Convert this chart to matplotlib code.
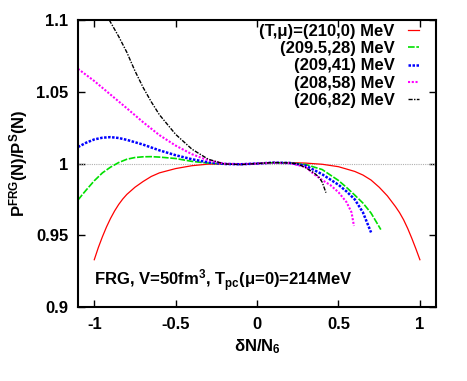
import matplotlib
matplotlib.use('Agg')
import matplotlib.pyplot as plt

plt.rcParams['font.family'] = ['Liberation Sans', 'DejaVu Sans']
plt.rcParams['font.weight'] = 'bold'
plt.rcParams['axes.labelweight'] = 'bold'
plt.rcParams['mathtext.fontset'] = 'custom'
plt.rcParams['mathtext.rm'] = 'Liberation Sans:bold'
plt.rcParams['mathtext.it'] = 'Liberation Sans:bold'
plt.rcParams['mathtext.bf'] = 'Liberation Sans:bold'
plt.rcParams['mathtext.sf'] = 'Liberation Sans:bold'

# (T,mu)=(210,0) MeV
x_red = [-1.0, -0.975, -0.95, -0.925, -0.9, -0.875, -0.85, -0.825, -0.8, -0.75, -0.7, -0.65, -0.6, -0.5, -0.4,
         -0.3, -0.2, -0.1, 0.0, 0.1, 0.2, 0.3, 0.4, 0.5, 0.6, 0.65, 0.7, 0.75, 0.8, 0.85, 0.875, 0.9,
         0.925, 0.95, 0.975, 1.0]
y_red = [0.933, 0.9415, 0.949, 0.9558, 0.9618, 0.967, 0.9715, 0.9753, 0.9785, 0.9835, 0.9875, 0.991, 0.9935, 0.9965, 0.9985,
         0.9996, 0.9997, 0.9995, 1.0, 1.0006, 1.0007, 1.0003, 0.9995, 0.9978, 0.9945, 0.992, 0.9885, 0.9835, 0.9775, 0.970, 0.9658, 0.9608,
         0.9548, 0.948, 0.9407, 0.933]

# (209.5,28) MeV
x_green = [-1.1, -1.075, -1.05, -1.0, -0.95, -0.9, -0.85, -0.8, -0.75, -0.7, -0.65, -0.6, -0.5, -0.4, -0.3, -0.2, -0.1,
           0.0, 0.1, 0.2, 0.3, 0.4, 0.5, 0.55, 0.6, 0.65, 0.7, 0.76]
y_green = [0.9746, 0.9781, 0.9815, 0.988, 0.9935, 0.9975, 1.0007, 1.003, 1.0042, 1.0047, 1.0048, 1.0045, 1.0035, 1.0015, 1.0003, 0.9997, 0.9995,
           1.0, 1.0006, 1.0005, 0.9993, 0.9958, 0.9882, 0.9833, 0.978, 0.9725, 0.9655, 0.954]

# (209,41) MeV
x_blue = [-1.1, -1.05, -1.0, -0.95, -0.9, -0.85, -0.8, -0.7, -0.6, -0.5, -0.4, -0.3, -0.2, -0.1,
          0.0, 0.1, 0.2, 0.3, 0.4, 0.5, 0.55, 0.6, 0.65, 0.7]
y_blue = [1.0115, 1.0145, 1.0168, 1.018, 1.0184, 1.0178, 1.0165, 1.0132, 1.0092, 1.0058, 1.003, 1.0008, 0.9997, 0.9995,
          1.0, 1.0006, 1.0004, 0.9985, 0.9925, 0.9852, 0.9805, 0.975, 0.966, 0.952]

# (208,58) MeV
x_mag = [-1.1, -1.0, -0.9, -0.8, -0.7, -0.6, -0.5, -0.4, -0.3, -0.2, -0.1,
         0.0, 0.1, 0.2, 0.3, 0.35, 0.4, 0.45, 0.5, 0.55, 0.58, 0.595]
y_mag = [1.066, 1.0575, 1.048, 1.0385, 1.0288, 1.0198, 1.0125, 1.0065, 1.0022, 0.9999, 0.9995,
         1.0, 1.0006, 1.0003, 0.9975, 0.9925, 0.9885, 0.985, 0.980, 0.973, 0.966, 0.9565]

# (206,82) MeV
x_blk = [-0.908, -0.85, -0.8, -0.75, -0.7, -0.65, -0.6, -0.5, -0.4, -0.3, -0.2, -0.1,
         0.0, 0.1, 0.2, 0.25, 0.3, 0.35, 0.38, 0.4, 0.423]
y_blk = [1.1, 1.0885, 1.0775, 1.0645, 1.053, 1.043, 1.034, 1.0203, 1.010, 1.003, 0.9997, 0.9993,
         1.0, 1.0007, 1.0004, 0.9997, 0.997, 0.9935, 0.9905, 0.987, 0.9797]

labels = ['(T,μ)=(210,0) MeV', '(209.5,28) MeV', '(209,41) MeV', '(208,58) MeV', '(206,82) MeV']

fig = plt.figure(figsize=(4.67, 3.81), dpi=100)
ax = fig.add_axes([0.167, 0.194, 0.767, 0.7535])

ax.axhline(1.0, color='#b0b0b0', lw=0.8, ls=(0, (1, 1)))

ax.plot(x_red, y_red, color='red', lw=0.9, label=labels[0])
ax.plot(x_green, y_green, color='#00e000', lw=1.2, ls=(0, (4, 1)), label=labels[1])
ax.plot(x_blue, y_blue, color='blue', lw=1.8, ls=(0, (1, 0.6)), label=labels[2])
ax.plot(x_mag, y_mag, color='magenta', lw=1.5, ls=(0, (1, 0.8)), label=labels[3])
ax.plot(x_blk, y_blk, color='black', lw=1.0, ls=(0, (3, 1, 1, 1)), label=labels[4])

ax.set_xlim(-1.1, 1.1)
ax.set_ylim(0.9, 1.1)
ax.set_xticks([-1, -0.5, 0, 0.5, 1])
ax.set_xticklabels(['-1', '-0.5', '0', '0.5', '1'])
ax.set_yticks([0.9, 0.95, 1.0, 1.05, 1.1])
ax.set_yticklabels(['0.9', '0.95', '1', '1.05', '1.1'])
ax.tick_params(direction='in', top=True, right=True, length=5, width=1, labelsize=12, pad=7)
for s in ax.spines.values():
    s.set_linewidth(1.5)

ax.set_xlabel('δN/N$_6$', fontsize=12, labelpad=4)
ax.set_ylabel('P$^{FRG}$(N)/P$^{S}$(N)', fontsize=12, labelpad=4)

ax.text(-1.0, 0.915, 'FRG, V=50fm$^3$, T$_{pc}$(μ=0)=214MeV', fontsize=12)

ax.legend(loc='upper right', markerfirst=False, frameon=False, fontsize=12,
          handlelength=0.65, handletextpad=0.8, labelspacing=0.14,
          borderaxespad=0.0, bbox_to_anchor=(0.97, 1.01))

fig.savefig('out.png', dpi=100)
